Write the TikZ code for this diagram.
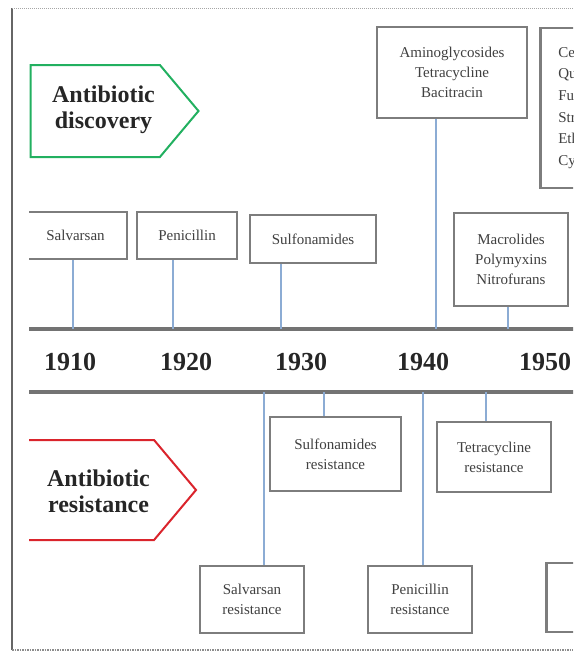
\documentclass[tikz,border=0pt]{standalone}
\usepackage{fontspec}
\setmainfont{Liberation Serif}
\usetikzlibrary{shapes.symbols}
\definecolor{linkblue}{RGB}{140,172,212}
\definecolor{boxgray}{RGB}{125,125,125}
\definecolor{discgreen}{RGB}{34,176,96}
\definecolor{resred}{RGB}{218,36,44}

\begin{document}
\begin{tikzpicture}[x=1pt,y=-1pt,
	drug/.style={draw=boxgray,line width=2.5pt,fill=white,text=black!75,align=center,inner sep=0pt,font=\fontsize{15}{20}\selectfont},
	yr/.style={font=\bfseries\fontsize{26}{30}\selectfont,text=black!85},
	link/.style={draw=linkblue,line width=1.3pt},
	bar/.style={draw=black!55,line width=3.5pt},
	era/.style={shape=signal,signal to=east,signal pointer angle=100,line width=2pt,inner sep=0pt,anchor=west},
	eratext/.style={align=center,font=\bfseries\fontsize{24}{26}\selectfont,text=black!85}]
	\useasboundingbox (0,0) rectangle (573,653);
	% page frame
	\draw[black!60,line width=1.5pt] (12,8) -- (12,650);
	\draw[black!35,line width=1pt,densely dotted] (12,8) -- (573,8);
	\draw[black!45,line width=1.5pt,densely dotted] (12,650) -- (573,650);

	\begin{scope}
	\clip (29,0) rectangle (573,653);
	% era signs
	\node[era,draw=discgreen,minimum width=168pt,minimum height=92pt] (disc) at (29.5,111) {};
	\node[eratext] (disclabel) at (103.5,110) {Antibiotic\\discovery};
	\node[era,draw=resred,minimum width=180pt,minimum height=100pt] (res) at (15,490) {};
	\node[eratext] (reslabel) at (98.5,491) {Antibiotic\\resistance};

	% time axis
	\coordinate (topleft) at (29,329);
	\coordinate (topright) at (580,329);
	\coordinate (botleft) at (29,392);
	\coordinate (botright) at (580,392);
	\draw[bar] (topleft) -- (topright);
	\draw[bar] (botleft) -- (botright);
	\node[yr] (y1910) at (70,362) {1910};
	\node[yr] (y1920) at (186,362) {1920};
	\node[yr] (y1930) at (301,362) {1930};
	\node[yr] (y1940) at (423,362) {1940};
	\node[yr] (y1950) at (545,362) {1950};

	% discoveries
	\node[drug,minimum width=103pt,minimum height=47pt] (salv) at (75.5,235.5) {Salvarsan};
	\node[drug,minimum width=100pt,minimum height=47pt] (pen) at (187,235.5) {Penicillin};
	\node[drug,minimum width=126pt,minimum height=48pt] (sulf) at (313,239) {Sulfonamides};
	\node[drug,minimum width=150pt,minimum height=91pt] (amino) at (452,72.5) {Aminoglycosides\\Tetracycline\\Bacitracin};
	\node[drug,anchor=west,align=left,text width=90pt,inner xsep=18pt,minimum height=160pt,font=\fontsize{15}{21.6}\selectfont] (ceph) at (539,108) {Ce\\Qu\\Fu\\Str\\Eth\\Cy};
	\node[drug,minimum width=114pt,minimum height=93pt] (macro) at (511,259.5) {Macrolides\\Polymyxins\\Nitrofurans};

	\coordinate (d1) at (73,329);
	\coordinate (d2) at (173,329);
	\coordinate (d3) at (281,329);
	\coordinate (d4) at (436,329);
	\coordinate (d5) at (508,329);
	\draw[link] (d1) -- (d1 |- salv.south);
	\draw[link] (d2) -- (d2 |- pen.south);
	\draw[link] (d3) -- (d3 |- sulf.south);
	\draw[link] (d4) -- (d4 |- amino.south);
	\draw[link] (d5) -- (d5 |- macro.south);

	% resistance
	\node[drug,minimum width=131pt,minimum height=74pt] (sulfres) at (335.5,454) {Sulfonamides\\resistance};
	\node[drug,minimum width=114pt,minimum height=70pt] (tetres) at (494,457) {Tetracycline\\resistance};
	\node[drug,minimum width=104pt,minimum height=67pt] (salvres) at (252,599.5) {Salvarsan\\resistance};
	\node[drug,minimum width=104pt,minimum height=67pt] (penres) at (420,599.5) {Penicillin\\resistance};
	\node[drug,anchor=west,minimum width=105pt,minimum height=69pt] (lastres) at (545,597.5) {};

	\coordinate (r1) at (264,392);
	\coordinate (r2) at (324,392);
	\coordinate (r3) at (423,392);
	\coordinate (r4) at (486,392);
	\draw[link] (r1) -- (r1 |- salvres.north);
	\draw[link] (r2) -- (r2 |- sulfres.north);
	\draw[link] (r3) -- (r3 |- penres.north);
	\draw[link] (r4) -- (r4 |- tetres.north);
	\end{scope}
\end{tikzpicture}
\end{document}
